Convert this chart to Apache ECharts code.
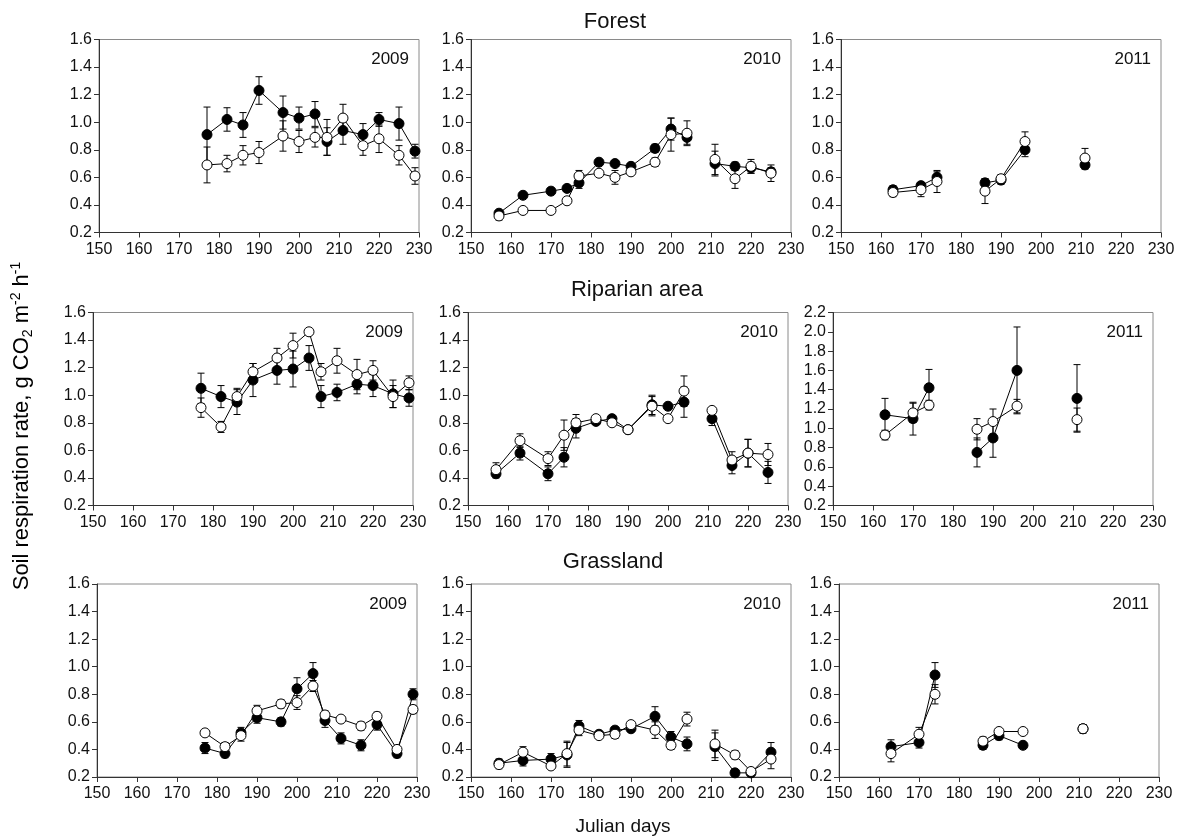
<!DOCTYPE html>
<html>
<head>
<meta charset="utf-8">
<script src="https://cdn.jsdelivr.net/npm/echarts@6/dist/echarts.min.js"></script>
<style>
html,body{margin:0;padding:0;background:#fff;}
#chart{width:1178px;height:839px;}
</style>
</head>
<body>
<div id="chart"></div>
<script>
// ---------------- DATA ----------------
const DAYS_2009 = [177,182,186,190,196,200,204,207,211,216,220,225,229];
const DAYS_2010 = [157,163,170,174,177,182,186,190,196,200,204,211,216,220,225];
const DAYS_2011 = [163,170,174,186,190,196,211];
// line is broken after these days
const BREAK_2009 = [];
const BREAK_2010 = [204];
const BREAK_2011 = [174,196];

const X_TICKS = [150,160,170,180,190,200,210,220,230];
const SITES = ['Forest','Riparian area','Grassland'];
const YEARS = ['2009','2010','2011'];

// Forest
const forest2009Filled    = [0.91,1.02,0.98,1.23,1.07,1.03,1.06,0.86,0.94,0.91,1.02,0.99,0.79];
const forest2009FilledErr = [0.20,0.085,0.09,0.10,0.12,0.08,0.09,0.10,0.10,0.08,0.05,0.12,0.05];
const forest2009Open      = [0.69,0.70,0.76,0.78,0.90,0.86,0.89,0.89,1.03,0.83,0.88,0.76,0.61];
const forest2009OpenErr   = [0.13,0.06,0.07,0.08,0.11,0.08,0.07,0.13,0.10,0.07,0.10,0.07,0.06];

const forest2010Filled    = [0.34,0.47,0.50,0.52,0.56,0.71,0.70,0.68,0.81,0.95,0.89,0.70,0.68,0.67,0.64];
const forest2010FilledErr = [0.02,0.01,0.01,0.02,0.04,0.02,0.02,0.02,0.03,0.08,0.05,0.09,0.03,0.04,0.03];
const forest2010Open      = [0.32,0.36,0.36,0.43,0.61,0.63,0.60,0.64,0.71,0.91,0.92,0.73,0.59,0.68,0.63];
const forest2010OpenErr   = [0.03,0.01,0.01,0.02,0.04,0.02,0.05,0.02,0.03,0.12,0.09,0.11,0.07,0.05,0.06];

const forest2011Filled    = [0.51,0.54,0.60,0.56,0.58,0.80,0.69];
const forest2011FilledErr = [0.03,0.02,0.04,0.03,0.03,0.05,0.03];
const forest2011Open      = [0.49,0.51,0.57,0.50,0.59,0.86,0.74];
const forest2011OpenErr   = [0.03,0.05,0.08,0.09,0.03,0.07,0.07];

// Riparian area
const riparian2009Filled    = [1.05,0.99,0.95,1.11,1.18,1.19,1.27,0.99,1.02,1.08,1.07,1.01,0.98];
const riparian2009FilledErr = [0.11,0.08,0.09,0.12,0.10,0.13,0.09,0.08,0.06,0.07,0.08,0.10,0.06];
const riparian2009Open      = [0.91,0.77,0.99,1.17,1.27,1.36,1.46,1.17,1.25,1.15,1.18,0.99,1.09];
const riparian2009OpenErr   = [0.07,0.04,0.06,0.06,0.07,0.09,0.02,0.06,0.09,0.11,0.07,0.08,0.05];

const riparian2010Filled    = [0.43,0.58,0.43,0.55,0.76,0.81,0.83,0.75,0.93,0.92,0.95,0.83,0.49,0.58,0.44];
const riparian2010FilledErr = [0.03,0.05,0.05,0.07,0.07,0.02,0.02,0.02,0.07,0.02,0.11,0.05,0.06,0.10,0.08];
const riparian2010Open      = [0.46,0.67,0.54,0.71,0.80,0.83,0.80,0.75,0.92,0.83,1.03,0.89,0.53,0.58,0.57];
const riparian2010OpenErr   = [0.05,0.05,0.05,0.11,0.06,0.02,0.02,0.02,0.07,0.01,0.11,0.01,0.06,0.10,0.08];

const riparian2011Filled    = [1.14,1.10,1.42,0.75,0.90,1.60,1.31];
const riparian2011FilledErr = [0.17,0.17,0.19,0.15,0.20,0.45,0.35];
const riparian2011Open      = [0.93,1.16,1.24,0.99,1.07,1.23,1.09];
const riparian2011OpenErr   = [0.05,0.10,0.05,0.11,0.13,0.07,0.12];

// Grassland
const grass2009Filled    = [0.41,0.37,0.52,0.63,0.60,0.84,0.95,0.61,0.48,0.43,0.58,0.37,0.80];
const grass2009FilledErr = [0.04,0.03,0.04,0.04,0.03,0.08,0.08,0.05,0.04,0.04,0.04,0.03,0.04];
const grass2009Open      = [0.52,0.42,0.50,0.68,0.73,0.74,0.86,0.65,0.62,0.57,0.64,0.40,0.69];
const grass2009OpenErr   = [0.02,0.03,0.04,0.04,0.03,0.05,0.04,0.03,0.02,0.03,0.03,0.02,0.03];

const grass2010Filled    = [0.30,0.32,0.33,0.36,0.57,0.51,0.54,0.55,0.64,0.49,0.44,0.42,0.23,0.23,0.38];
const grass2010FilledErr = [0.03,0.04,0.04,0.09,0.04,0.02,0.02,0.02,0.07,0.04,0.05,0.10,0.02,0.02,0.07];
const grass2010Open      = [0.29,0.38,0.28,0.37,0.54,0.50,0.51,0.58,0.54,0.43,0.62,0.44,0.36,0.24,0.33];
const grass2010OpenErr   = [0.03,0.04,0.02,0.09,0.04,0.02,0.03,0.02,0.06,0.03,0.05,0.10,0.03,0.02,0.07];

const grass2011Filled    = [0.42,0.45,0.94,0.43,0.50,0.43,0.55];
const grass2011FilledErr = [0.05,0.04,0.09,0.03,0.03,0.02,0.03];
const grass2011Open      = [0.37,0.51,0.80,0.46,0.53,0.53,0.55];
const grass2011OpenErr   = [0.06,0.05,0.07,0.03,0.02,0.02,0.03];

// y-axis maximum for each panel (row-major)
const Y_MAX = [1.6,1.6,1.6, 1.6,1.6,2.2, 1.6,1.6,1.6];

// ---------------- PANELS ----------------
const DAYS = [DAYS_2009, DAYS_2010, DAYS_2011];
const BREAKS = [BREAK_2009, BREAK_2010, BREAK_2011];
const PANEL_DATA = [
  [forest2009Filled, forest2009FilledErr, forest2009Open, forest2009OpenErr],
  [forest2010Filled, forest2010FilledErr, forest2010Open, forest2010OpenErr],
  [forest2011Filled, forest2011FilledErr, forest2011Open, forest2011OpenErr],
  [riparian2009Filled, riparian2009FilledErr, riparian2009Open, riparian2009OpenErr],
  [riparian2010Filled, riparian2010FilledErr, riparian2010Open, riparian2010OpenErr],
  [riparian2011Filled, riparian2011FilledErr, riparian2011Open, riparian2011OpenErr],
  [grass2009Filled, grass2009FilledErr, grass2009Open, grass2009OpenErr],
  [grass2010Filled, grass2010FilledErr, grass2010Open, grass2010OpenErr],
  [grass2011Filled, grass2011FilledErr, grass2011Open, grass2011OpenErr]
];

// ---------------- LAYOUT ----------------
const ROW_TOP = [39.5, 312.5, 584];
const PANEL_H = 193;
const PANEL_W = 320;
const COL_LEFT = [[99,471,841],[93,468,833],[97,471,839]];
const ROW_TITLE_POS = [[615,22],[637,290],[613,562]];
const FONT = '"Liberation Sans", Arial, Helvetica, sans-serif';

const grids = [], xAxes = [], yAxes = [], series = [], graphics = [];

function segments(days, vals, breaks) {
  const segs = [];
  let cur = [];
  days.forEach((d, i) => {
    cur.push([d, vals[i]]);
    if (breaks.indexOf(d) >= 0) { segs.push(cur); cur = []; }
  });
  if (cur.length) segs.push(cur);
  return segs;
}

function errRender(params, api) {
  const x = api.value(0), y = api.value(1), e = api.value(2);
  const p1 = api.coord([x, y + e]);
  const p2 = api.coord([x, y - e]);
  const hw = 3.5;
  const st = { stroke: '#000', lineWidth: 1 };
  return {
    type: 'group',
    children: [
      { type: 'line', shape: { x1: p1[0], y1: p1[1], x2: p2[0], y2: p2[1] }, style: st },
      { type: 'line', shape: { x1: p1[0] - hw, y1: p1[1], x2: p1[0] + hw, y2: p1[1] }, style: st },
      { type: 'line', shape: { x1: p2[0] - hw, y1: p2[1], x2: p2[0] + hw, y2: p2[1] }, style: st }
    ]
  };
}

for (let r = 0; r < 3; r++) {
  for (let c = 0; c < 3; c++) {
    const k = r * 3 + c;
    const left = COL_LEFT[r][c], top = ROW_TOP[r];
    grids.push({ left: left, top: top, width: PANEL_W, height: PANEL_H, show: true,
                 borderColor: '#8a8a8a', borderWidth: 1, backgroundColor: 'transparent' });
    xAxes.push({
      gridIndex: k, type: 'value', min: X_TICKS[0], max: X_TICKS[X_TICKS.length - 1], interval: 10,
      axisLine: { show: true, onZero: false, lineStyle: { color: '#333', width: 1 } },
      axisTick: { show: true, inside: false, length: 5, lineStyle: { color: '#333' } },
      axisLabel: { color: '#111', fontSize: 16, fontFamily: FONT, margin: 9 },
      splitLine: { show: false }
    });
    yAxes.push({
      gridIndex: k, type: 'value', min: 0.2, max: Y_MAX[k], interval: 0.2,
      axisLine: { show: true, onZero: false, lineStyle: { color: '#333', width: 1 } },
      axisTick: { show: true, inside: false, length: 5, lineStyle: { color: '#333' } },
      axisLabel: { color: '#111', fontSize: 16, fontFamily: FONT, margin: 7,
                   formatter: v => v.toFixed(1) },
      splitLine: { show: false }
    });
    const days = DAYS[c], brk = BREAKS[c];
    const [fv, fe, ov, oe] = PANEL_DATA[k];
    // error bars
    series.push({ type: 'custom', xAxisIndex: k, yAxisIndex: k, z: 1, silent: true,
      renderItem: errRender, encode: { x: 0, y: 1 },
      data: days.map((d, i) => [d, fv[i], fe[i]]) });
    series.push({ type: 'custom', xAxisIndex: k, yAxisIndex: k, z: 1, silent: true,
      renderItem: errRender, encode: { x: 0, y: 1 },
      data: days.map((d, i) => [d, ov[i], oe[i]]) });
    // filled series
    segments(days, fv, brk).forEach(seg => {
      series.push({ type: 'line', xAxisIndex: k, yAxisIndex: k, z: 3, data: seg,
        symbol: 'circle', symbolSize: 10, showSymbol: true, silent: true,
        lineStyle: { color: '#000', width: 1 },
        itemStyle: { color: '#000', borderColor: '#000', borderWidth: 1 } });
    });
    // open series
    segments(days, ov, brk).forEach(seg => {
      series.push({ type: 'line', xAxisIndex: k, yAxisIndex: k, z: 4, data: seg,
        symbol: 'circle', symbolSize: 10, showSymbol: true, silent: true,
        lineStyle: { color: '#000', width: 1 },
        itemStyle: { color: '#fff', borderColor: '#000', borderWidth: 1 } });
    });
    // year label
    graphics.push({ type: 'text', x: left + PANEL_W - 10, y: top + 20,
      style: { text: YEARS[c], font: '17px ' + FONT, fill: '#111', align: 'right', verticalAlign: 'middle' } });
  }
  graphics.push({ type: 'text', x: ROW_TITLE_POS[r][0], y: ROW_TITLE_POS[r][1],
    style: { text: SITES[r], font: '22px ' + FONT, fill: '#111', align: 'center', verticalAlign: 'middle' } });
}

graphics.push({ type: 'text', x: 623, y: 827,
  style: { text: 'Julian days', font: '19px ' + FONT, fill: '#111', align: 'center', verticalAlign: 'middle' } });

graphics.push({ type: 'text', x: 22, y: 426, rotation: Math.PI / 2,
  style: {
    text: '{a|Soil respiration rate, g CO}{sub|2}{a| m}{sup|-2}{a| h}{sup|-1}',
    align: 'center', verticalAlign: 'middle',
    rich: {
      a: { fontSize: 22, fontFamily: FONT, color: '#111', lineHeight: 32, verticalAlign: 'middle' },
      sub: { fontSize: 14, fontFamily: FONT, color: '#111', lineHeight: 32, verticalAlign: 'bottom', padding: [0, 0, 3, 0] },
      sup: { fontSize: 14, fontFamily: FONT, color: '#111', lineHeight: 32, verticalAlign: 'top', padding: [3, 0, 0, 0] }
    }
  } });

const chart = echarts.init(document.getElementById('chart'), null, { renderer: 'canvas' });
chart.setOption({
  animation: false,
  backgroundColor: '#fff',
  grid: grids, xAxis: xAxes, yAxis: yAxes, series: series, graphic: graphics
});
</script>
</body>
</html>
